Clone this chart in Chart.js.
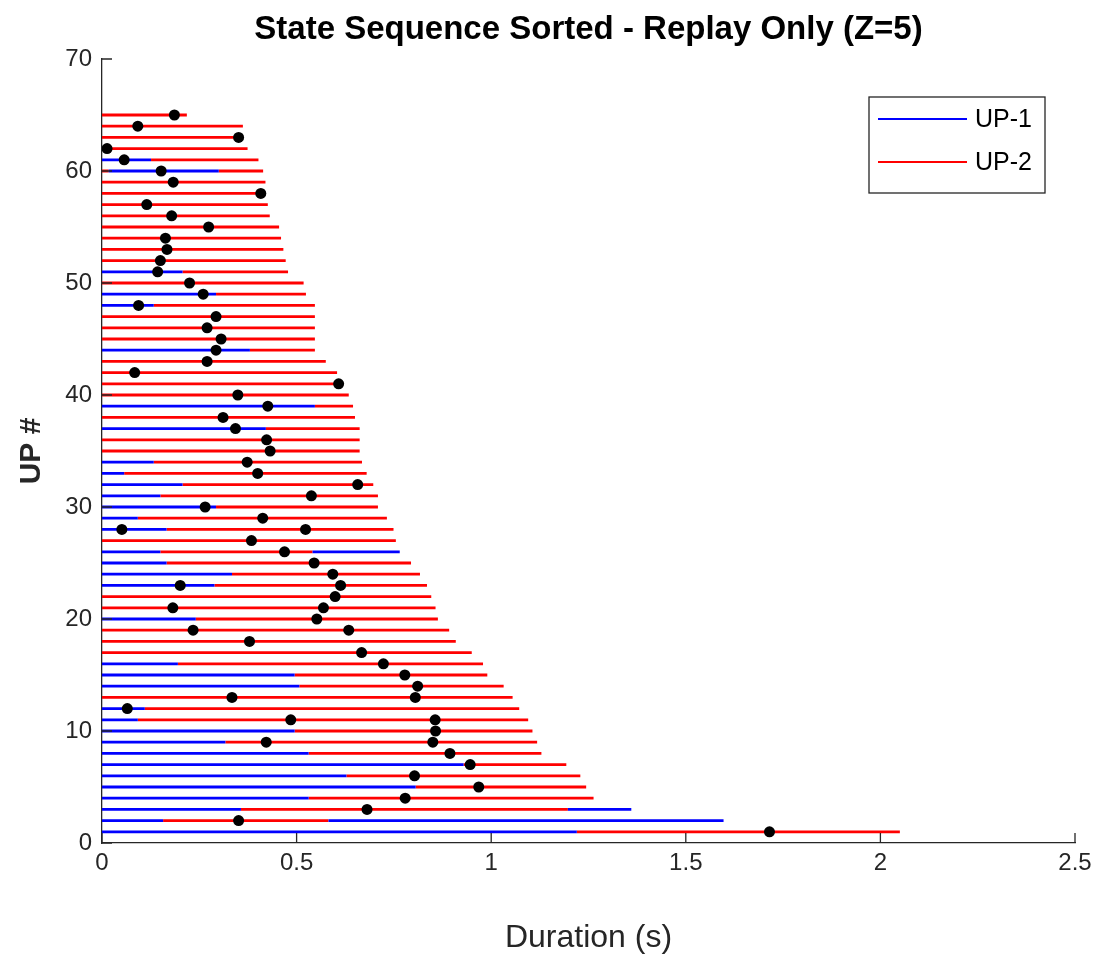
<!DOCTYPE html>
<html>
<head>
<meta charset="utf-8">
<title>State Sequence Sorted - Replay Only (Z=5)</title>
<script src="https://cdn.jsdelivr.net/npm/chart.js@4.4.0/dist/chart.umd.min.js"></script>
<style>
  html, body { margin: 0; padding: 0; background: #fff; }
  canvas { display: block; }
</style>
</head>
<body>
<canvas id="upChart" width="1106" height="962"></canvas>
<script>
// one entry per UP, UP # 1 .. 65
// firstState = state the sequence starts in (1 = UP-1, 2 = UP-2), states then alternate
const firstState = [
  1, 1, 1, 1, 1, 1, 1, 1, 1, 1,
  1, 1, 2, 1, 1, 1, 2, 2, 2, 1,
  2, 2, 1, 1, 1, 1, 2, 1, 1, 1,
  1, 1, 1, 1, 2, 2, 1, 2, 1, 2,
  2, 2, 2, 1, 2, 2, 2, 1, 1, 2,
  1, 2, 2, 2, 2, 2, 2, 2, 2, 2,
  1, 2, 2, 2, 2,
];
// end time (s) of every state segment in each UP
const stateEnds = [
  [1.22, 2.05], [0.157, 0.582, 1.597], [0.357, 1.197, 1.36], [0.531, 1.263], [0.806, 1.244],
  [0.628, 1.229], [0.929, 1.193], [0.531, 1.129], [0.317, 1.118], [0.495, 1.106],
  [0.092, 1.095], [0.11, 1.072], [1.055], [0.507, 1.032], [0.495, 0.99],
  [0.195, 0.979], [0.95], [0.909], [0.892], [0.241, 0.863],
  [0.857], [0.846], [0.289, 0.835], [0.334, 0.817], [0.166, 0.794],
  [0.15, 0.541, 0.765], [0.755], [0.166, 0.749], [0.092, 0.732], [0.293, 0.709],
  [0.15, 0.709], [0.207, 0.697], [0.057, 0.68], [0.133, 0.668], [0.662],
  [0.662], [0.421, 0.662], [0.65], [0.547, 0.645], [0.634],
  [0.62], [0.604], [0.575], [0.38, 0.547], [0.547],
  [0.547], [0.547], [0.133, 0.547], [0.293, 0.524], [0.518],
  [0.207, 0.478], [0.472], [0.466], [0.46], [0.455],
  [0.431], [0.426], [0.42], [0.42], [0.017, 0.30, 0.414],
  [0.126, 0.402], [0.374], [0.362], [0.362], [0.218],
];

// replay events (black dots)
const dotUp = [
  1, 2, 3, 4, 5, 6, 7, 8, 9, 9, 10, 11, 11, 12, 13, 13, 14, 15, 16, 17,
  18, 19, 19, 20, 21, 21, 22, 23, 23, 24, 25, 26, 27, 28, 28, 29, 30, 31, 32, 33,
  34, 35, 36, 37, 38, 39, 40, 41, 42, 43, 44, 45, 46, 47, 48, 49, 50, 51, 52, 53,
  54, 55, 56, 57, 58, 59, 60, 61, 62, 63, 64, 65,
];
const dotTime = [
  1.715, 0.351, 0.681, 0.779, 0.968, 0.803, 0.946, 0.894, 0.422, 0.85, 0.857, 0.485, 0.856, 0.065, 0.334, 0.805, 0.811, 0.778, 0.723, 0.667,
  0.379, 0.234, 0.634, 0.552, 0.182, 0.569, 0.599, 0.201, 0.613, 0.593, 0.545, 0.469, 0.384, 0.051, 0.523, 0.413, 0.265, 0.538, 0.657, 0.40,
  0.373, 0.432, 0.423, 0.343, 0.311, 0.426, 0.349, 0.608, 0.084, 0.27, 0.293, 0.306, 0.27, 0.293, 0.094, 0.26, 0.225, 0.143, 0.15, 0.167,
  0.163, 0.274, 0.179, 0.115, 0.408, 0.183, 0.152, 0.057, 0.013, 0.351, 0.092, 0.186,
];

const xTicks = [0, 0.5, 1, 1.5, 2, 2.5];
const yTicks = [0, 10, 20, 30, 40, 50, 60, 70];
const stateNames = ["UP-1", "UP-2"];
const stateColors = ["#0000ff", "#ff0000"];

const FONT = "'Liberation Sans', Arial, Helvetica, sans-serif";
const AXIS_COLOR = "#262626";

// split every UP into line pieces, a null point breaks the line
const segData = [[], []];
stateEnds.forEach((ends, i) => {
  const up = i + 1;
  let state = firstState[i];
  let start = 0;
  ends.forEach((end) => {
    segData[state - 1].push({ x: start, y: up }, { x: end, y: up }, { x: end, y: null });
    start = end;
    state = state === 1 ? 2 : 1;
  });
});

const dots = dotUp.map((up, i) => ({ x: dotTime[i], y: up }));

// matlab style ticks pointing into the axes
const innerTicks = {
  id: "innerTicks",
  afterDatasetsDraw(chart) {
    const { ctx, chartArea, scales } = chart;
    ctx.save();
    ctx.strokeStyle = AXIS_COLOR;
    ctx.lineWidth = 1.3;
    ctx.beginPath();
    xTicks.forEach((v) => {
      const px = scales.x.getPixelForValue(v);
      ctx.moveTo(px, chartArea.bottom);
      ctx.lineTo(px, chartArea.bottom - 10);
    });
    yTicks.forEach((v) => {
      const py = scales.y.getPixelForValue(v);
      ctx.moveTo(chartArea.left, py);
      ctx.lineTo(chartArea.left + 10, py);
    });
    ctx.stroke();
    ctx.restore();
  },
};

// legend box inside the axes, top right
const boxLegend = {
  id: "boxLegend",
  afterDraw(chart) {
    const { ctx, chartArea } = chart;
    const w = 176, h = 96;
    const x0 = chartArea.right - 30 - w;
    const y0 = chartArea.top + 38;
    ctx.save();
    ctx.fillStyle = "#fff";
    ctx.fillRect(x0, y0, w, h);
    ctx.strokeStyle = AXIS_COLOR;
    ctx.lineWidth = 1.3;
    ctx.strokeRect(x0, y0, w, h);
    chart.data.datasets.filter((ds) => ds.inLegend).forEach((ds, i) => {
      const y = y0 + 22 + i * 43;
      ctx.strokeStyle = ds.borderColor;
      ctx.lineWidth = 2;
      ctx.beginPath();
      ctx.moveTo(x0 + 9, y);
      ctx.lineTo(x0 + 98, y);
      ctx.stroke();
      ctx.fillStyle = "#000";
      ctx.font = "25px " + FONT;
      ctx.textBaseline = "middle";
      ctx.fillText(ds.label, x0 + 106, y + 1);
    });
    ctx.restore();
  },
};

const lineSets = stateNames.map((name, i) => ({
  type: "line",
  label: name,
  inLegend: true,
  data: segData[i],
  borderColor: stateColors[i],
  borderWidth: 2.8,
  borderCapStyle: "butt",
  pointRadius: 0,
  spanGaps: false,
  tension: 0,
  fill: false,
  order: i + 1,
}));

new Chart(document.getElementById("upChart"), {
  type: "line",
  data: {
    datasets: [
      {
        type: "scatter",
        label: "replay",
        data: dots,
        pointRadius: 5.5,
        pointBackgroundColor: "#000",
        pointBorderWidth: 0,
        order: 0,
      },
      ...lineSets,
    ],
  },
  options: {
    responsive: false,
    animation: false,
    devicePixelRatio: 1,
    layout: { padding: { top: 0, left: 0, right: 31, bottom: 0 } },
    plugins: {
      legend: { display: false },
      tooltip: { enabled: false },
      title: {
        display: true,
        fullSize: false,
        text: "State Sequence Sorted - Replay Only (Z=5)",
        color: "#000",
        font: { family: FONT, size: 33, weight: "bold", lineHeight: 1.2 },
        padding: { top: 10, bottom: 9.4 },
      },
    },
    scales: {
      x: {
        type: "linear",
        min: 0,
        max: 2.5,
        afterBuildTicks: (s) => { s.ticks = xTicks.map((v) => ({ value: v })); },
        afterFit: (s) => { s.height = 119; },
        grid: { display: false, drawTicks: false },
        border: { display: true, color: AXIS_COLOR, width: 1.3 },
        ticks: {
          color: AXIS_COLOR,
          font: { family: FONT, size: 24 },
          padding: 6,
          maxRotation: 0,
          autoSkip: false,
          callback: (v) => String(v),
        },
        title: {
          display: true,
          text: "Duration (s)",
          color: AXIS_COLOR,
          font: { family: FONT, size: 32 },
          padding: { top: 0, bottom: 5 },
        },
      },
      y: {
        type: "linear",
        min: 0,
        max: 70,
        afterBuildTicks: (s) => { s.ticks = yTicks.map((v) => ({ value: v })); },
        afterFit: (s) => { s.width = 102; },
        grid: { display: false, drawTicks: false },
        border: { display: true, color: AXIS_COLOR, width: 1.3 },
        ticks: {
          color: AXIS_COLOR,
          font: { family: FONT, size: 24 },
          padding: 10,
          autoSkip: false,
          callback: (v) => String(v),
        },
        title: {
          display: true,
          text: "UP #",
          color: AXIS_COLOR,
          font: { family: FONT, size: 30, weight: "bold" },
          padding: { top: 14, bottom: 0 },
        },
      },
    },
  },
  plugins: [innerTicks, boxLegend],
});
</script>
</body>
</html>
